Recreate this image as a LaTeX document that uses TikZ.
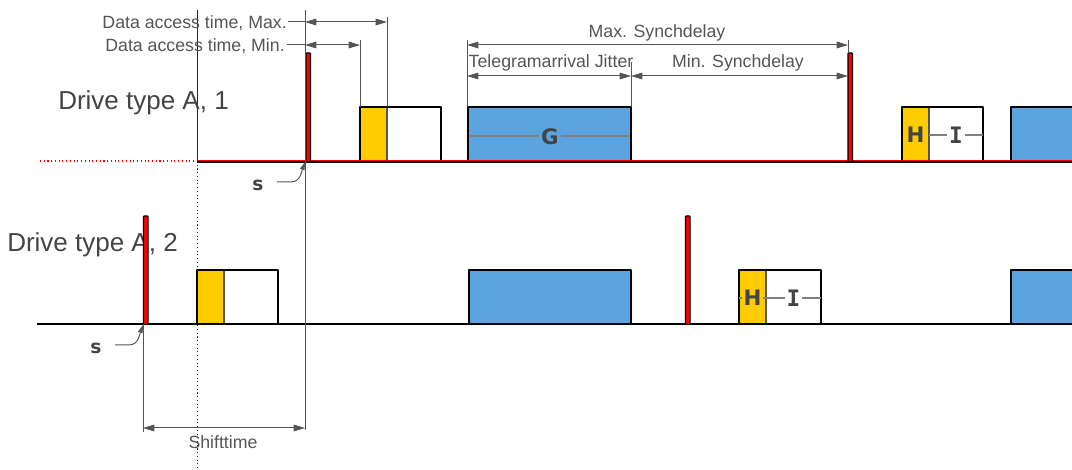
\documentclass[tikz,border=0pt]{standalone}
\usepackage{fontspec}
\setmainfont{Liberation Sans}
\newfontfamily\lettfont{DejaVu Sans}
\newfontfamily\lettmono{DejaVu Sans Mono}
\usetikzlibrary{arrows.meta}
\definecolor{pulsered}{HTML}{FF0000}
\definecolor{slotyellow}{HTML}{FFCC00}
\definecolor{slotblue}{HTML}{5BA4E0}
\definecolor{dimgray}{HTML}{555555}
\definecolor{labgray}{HTML}{444444}
\definecolor{axisblue}{HTML}{1010CC}
\begin{document}
\begin{tikzpicture}[x=0.75pt,y=-0.75pt,
  dimline/.style={draw=dimgray, line width=0.75pt},
  dimarrow/.style={dimline, {Triangle[length=8.5pt,width=5pt]}-{Triangle[length=8.5pt,width=5pt]}},
  dimtext/.style={text=dimgray, font=\fontsize{13.3}{15}\selectfont, inner sep=0pt, anchor=base},
  rowlabel/.style={text=labgray, font=\fontsize{19.5}{22}\selectfont, inner sep=0pt, anchor=base west},
  slot/.style={draw=black, line width=1.5pt, line join=round},
  divider/.style={draw=dimgray, line width=1pt},
  pulse/.style={draw=black, fill=pulsered, line width=0.9pt, rounded corners=0.6pt},
  letter/.style={text=labgray, font=\lettfont\bfseries\fontsize{16}{18}\selectfont, inner sep=1.5pt},
  letterI/.style={text=labgray, font=\lettmono\bfseries\fontsize{17}{18}\selectfont, inner sep=1.5pt},
  midline/.style={draw=gray, line width=0.9pt},
  sflag/.style={text=labgray, font=\lettfont\bfseries\fontsize{14}{16}\selectfont, inner sep=0pt},
  sleader/.style={draw=dimgray, line width=0.75pt, -{Triangle[length=6pt,width=3.5pt]}},
  baseline/.style={draw=black, line width=1.6pt}
]
\useasboundingbox (0,0) rectangle (1072,470);
\clip (0,0) rectangle (1072,470);

% ---------- reference axis and time marks ----------
\coordinate (axisTop) at (197.5,10);
\coordinate (axisMid) at (197.5,161);
\coordinate (axisBot) at (197.5,470);
\draw[axisblue, line width=0.8pt] (axisTop) -- (axisMid);
\draw[axisblue, line width=0.8pt, dotted] (axisMid) -- (axisBot);
\draw[pulsered, line width=0.8pt, dotted] (40,161) -- (axisMid);

% ---------- drive 1 ----------
\node[rowlabel] (lab1) at (58,110) {Drive type A, 1};

% slots
\filldraw[slot, fill=slotyellow] (360,107) rectangle (387,161);
\filldraw[slot, fill=white] (387,107) rectangle (441,161);
\draw[divider] (387,108) -- (387,160);
\filldraw[slot, fill=slotblue] (468,107) rectangle (631,161);
\filldraw[slot, fill=slotyellow] (902,107) rectangle (929,161);
\filldraw[slot, fill=white] (929,107) rectangle (983,161);
\draw[divider] (929,108) -- (929,160);
\filldraw[slot, fill=slotblue] (1011,107) rectangle (1080,161);

% slot labels
\draw[midline] (470,136) -- (629,136);
\node[letter, fill=slotblue] (G1) at (550,137) {G};
\draw[midline] (929,135) -- (983,135);
\node[letter] (H1) at (915.5,135) {H};
\node[letterI, fill=white] (I1) at (956,135) {I};

% baseline
\draw[baseline] (197,161.5) -- (1072,161.5);
\draw[pulsered, line width=0.4pt] (197,160.2) -- (1072,160.2);

% sync pulses
\filldraw[pulse] (306,161) -- (306,53) -- (310.5,53) -- (310.5,161);
\filldraw[pulse] (848,161) -- (848,53) -- (852.5,53) -- (852.5,161);

% ---------- drive 2 ----------
\node[rowlabel] (lab2) at (7,252) {Drive type A, 2};

\filldraw[slot, fill=slotyellow] (197,270) rectangle (224,324);
\filldraw[slot, fill=white] (224,270) rectangle (278,324);
\draw[divider] (224,271) -- (224,323);
\filldraw[slot, fill=slotblue] (469,270) rectangle (631,324);
\filldraw[slot, fill=slotyellow] (739,270) rectangle (766,324);
\filldraw[slot, fill=white] (766,270) rectangle (821,324);
\draw[divider] (766,271) -- (766,323);
\filldraw[slot, fill=slotblue] (1011,270) rectangle (1080,324);

\draw[midline] (739,298) -- (821,298);
\node[letter, fill=slotyellow] (H2) at (752.5,298) {H};
\node[letterI, fill=white] (I2) at (793.5,298) {I};

\draw[baseline] (37,324) -- (1072,324);

\filldraw[pulse] (143.5,324) -- (143.5,216) -- (148,216) -- (148,324);
\filldraw[pulse] (685.5,324) -- (685.5,216) -- (690,216) -- (690,324);

% ---------- sync points ----------
\coordinate (s1pt) at (305,162);
\coordinate (s2pt) at (143,325);
\node[sflag] (s1) at (258,185) {s};
\node[sflag] (s2) at (96,348) {s};
\draw[sleader] (277,182) -- (291,182) to[out=0,in=250] (s1pt);
\draw[sleader] (115,345) -- (129,345) to[out=0,in=250] (s2pt);

% ---------- dimension extension lines ----------
\draw[dimline] (305,10) -- (305,430);
\draw[dimline] (387,17) -- (387,107);
\draw[dimline] (360,40) -- (360,107);
\draw[dimline] (467,40) -- (467,107);
\draw[dimline] (631,62) -- (631,107);
\draw[dimline] (848,40) -- (848,53);
\draw[dimline] (143,324) -- (143,432);

% ---------- dimensions ----------
\node[dimtext, anchor=base east] (dmax) at (287,28.5) {Data access time, Max.};
\node[dimtext, anchor=base east] (dmin) at (285,51.5) {Data access time, Min.};
\draw[dimline] (dmax.east |- 0,22) ++(1,0) -- (305,22);
\draw[dimline] (dmin.east |- 0,45) ++(2,0) -- (305,45);
\draw[dimarrow] (305,22) -- (387,22);
\draw[dimarrow] (305,45) -- (360,45);

\node[dimtext] (msd) at (657,37.5) {Max. Synchdelay};
\draw[dimarrow] (467,45) -- (848,45);
\node[dimtext] (tj) at (551,67.5) {Telegramarrival Jitter};
\node[dimtext] (mnsd) at (738,67.5) {Min. Synchdelay};
\draw[dimarrow] (467,76) -- (631,76);
\draw[dimarrow] (631,76) -- (848,76);

\draw[dimarrow] (143,428) -- (305,428);
\node[dimtext] (shift) at (223,449) {Shifttime};
\end{tikzpicture}
\end{document}
